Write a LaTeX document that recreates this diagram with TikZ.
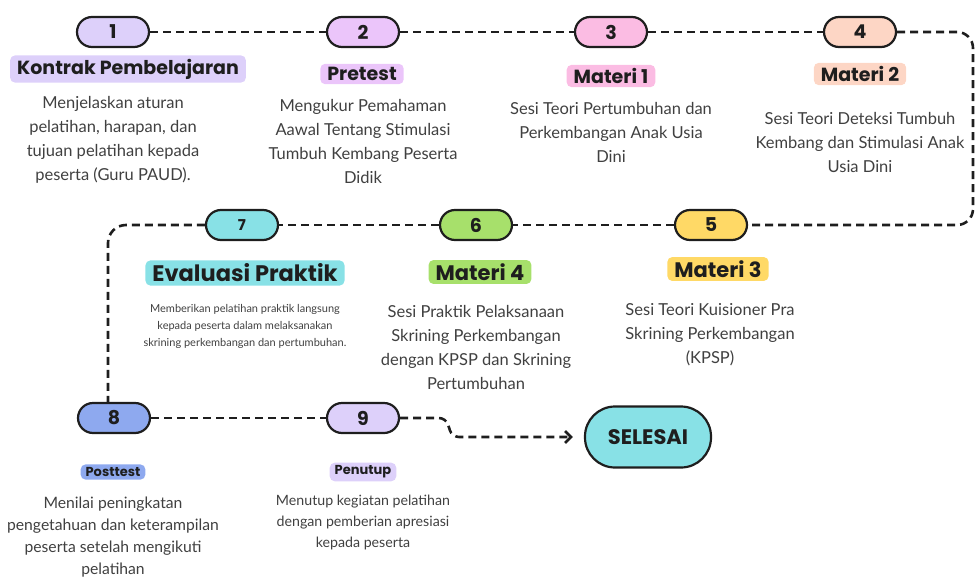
\documentclass[tikz,border=0pt]{standalone}
\usepackage{fontspec}
\setmainfont{Lato}
\newfontfamily\headfont{Poppins}
\usetikzlibrary{arrows.meta}
\definecolor{lavA}{HTML}{DDD0FA}
\definecolor{lavB}{HTML}{EBC5FA}
\definecolor{pinkC}{HTML}{FBBCE3}
\definecolor{peachD}{HTML}{FDD6C5}
\definecolor{yellowE}{HTML}{FFD966}
\definecolor{greenF}{HTML}{A7E06B}
\definecolor{cyanG}{HTML}{88E1E6}
\definecolor{blueH}{HTML}{8EA9EF}
\definecolor{inkdark}{HTML}{1E1E1E}
\definecolor{inkgray}{HTML}{404040}
\begin{document}
\begin{tikzpicture}[x=1pt, y=-1pt,
		numpill/.style={draw=inkdark, line width=2.2pt, fill=#1, rounded corners=15pt,
			minimum width=72pt, minimum height=30pt, inner sep=0pt,
			font=\headfont\bfseries\fontsize{19}{19}\selectfont, text=inkdark},
		titlebox/.style={fill=#1, rounded corners=5pt, inner xsep=7pt, inner ysep=3.5pt,
			text=inkdark},
		desctext/.style={align=center, text=inkgray, inner sep=0pt},
		flowline/.style={draw=inkdark, line width=2.6pt, dash pattern=on 8pt off 5pt}]

		\useasboundingbox (0,0) rectangle (975,576);

		% step pills
		\node [numpill=lavA] (n1) at (113,32) {1};
		\node [numpill=lavB] (n2) at (363,32) {2};
		\node [numpill=pinkC] (n3) at (611,32) {3};
		\node [numpill=peachD] (n4) at (860,32) {4};
		\node [numpill=yellowE] (n5) at (711,225) {5};
		\node [numpill=greenF] (n6) at (476,225) {6};
		\node [numpill=cyanG, font=\headfont\bfseries\fontsize{15}{15}\selectfont] (n7) at (242,225) {7};
		\node [numpill=blueH] (n8) at (114,418) {8};
		\node [numpill=lavA] (n9) at (363,418) {9};
		\node [draw=inkdark, line width=2.2pt, fill=cyanG, rounded corners=30pt,
			minimum width=126pt, minimum height=61pt, text=inkdark,
			font=\headfont\bfseries\fontsize{21}{21}\selectfont] (sel) at (648,437) {SELESAI};

		% titles
		\node [titlebox=lavA, font=\headfont\bfseries\fontsize{19}{19}\selectfont] (t1) at (128,69) {Kontrak Pembelajaran};
		\node [titlebox=lavB, font=\headfont\bfseries\fontsize{19}{19}\selectfont] (t2) at (362,74) {Pretest};
		\node [titlebox=pinkC, font=\headfont\bfseries\fontsize{19}{19}\selectfont] (t3) at (611,76) {Materi 1};
		\node [titlebox=peachD, font=\headfont\bfseries\fontsize{19}{19}\selectfont] (t4) at (860,74) {Materi 2};
		\node [titlebox=yellowE, font=\headfont\bfseries\fontsize{21}{21}\selectfont] (t5) at (718,269) {Materi 3};
		\node [titlebox=greenF, font=\headfont\bfseries\fontsize{21}{21}\selectfont] (t6) at (480,272) {Materi 4};
		\node [titlebox=cyanG, font=\headfont\bfseries\fontsize{22.5}{22.5}\selectfont] (t7) at (245,273) {Evaluasi Praktik};
		\node [titlebox=blueH, inner xsep=5pt, inner ysep=3pt, font=\headfont\bfseries\fontsize{13}{13}\selectfont] (t8) at (113,472) {Posttest};
		\node [titlebox=lavA, inner xsep=5pt, inner ysep=3pt, font=\headfont\bfseries\fontsize{13}{13}\selectfont] (t9) at (363,472) {Penutup};

		% descriptions
		\node [desctext, font=\fontsize{16.5}{24}\selectfont] (d1) at (113,140)
			{Menjelaskan aturan\\pelatihan, harapan, dan\\tujuan pelatihan kepada\\peserta (Guru PAUD).};
		\node [desctext, font=\fontsize{16.5}{24}\selectfont] (d2) at (363,141)
			{Mengukur Pemahaman\\Aawal Tentang Stimulasi\\Tumbuh Kembang Peserta\\Didik};
		\node [desctext, font=\fontsize{16.5}{24}\selectfont] (d3) at (611,132)
			{Sesi Teori Pertumbuhan dan\\Perkembangan Anak Usia\\Dini};
		\node [desctext, font=\fontsize{16.5}{24}\selectfont] (d4) at (860,142)
			{Sesi Teori Deteksi Tumbuh\\Kembang dan Stimulasi Anak\\Usia Dini};
		\node [desctext, font=\fontsize{16.5}{24}\selectfont] (d5) at (710,335)
			{Sesi Teori Kuisioner Pra\\Skrining Perkembangan\\(KPSP)};
		\node [desctext, font=\fontsize{16.5}{24}\selectfont] (d6) at (476,347)
			{Sesi Praktik Pelaksanaan\\Skrining Perkembangan\\dengan KPSP dan Skrining\\Pertumbuhan};
		\node [desctext, font=\fontsize{11}{17}\selectfont] (d7) at (245,326)
			{Memberikan pelatihan praktik langsung\\kepada peserta dalam melaksanakan\\skrining perkembangan dan pertumbuhan.};
		\node [desctext, font=\fontsize{15.7}{22}\selectfont] (d8) at (113,537)
			{Menilai peningkatan\\pengetahuan dan keterampilan\\peserta setelah mengikuti\\pelatihan};
		\node [desctext, font=\fontsize{14.2}{21}\selectfont] (d9) at (363,522)
			{Menutup kegiatan pelatihan\\dengan pemberian apresiasi\\kepada peserta};

		% connectors
		\draw [flowline] (n1) -- (n2);
		\draw [flowline] (n2) -- (n3);
		\draw [flowline] (n3) -- (n4);
		\draw [flowline, rounded corners=16pt] (n4.east) -- (973,32) -- (973,225) -- (n5.east);
		\draw [flowline] (n5) -- (n6);
		\draw [flowline] (n6) -- (n7);
		\draw [flowline, rounded corners=18pt] (n7.west) -| ([xshift=-6pt]n8.north);
		\draw [flowline] (n8) -- (n9);
		\draw [flowline, -{Straight Barb[length=6pt, width=12pt]}, shorten >=11pt, rounded corners=7pt]
			(n9.east) -- (446,418) -- (452,437) -- (sel.west);
\end{tikzpicture}
\end{document}
